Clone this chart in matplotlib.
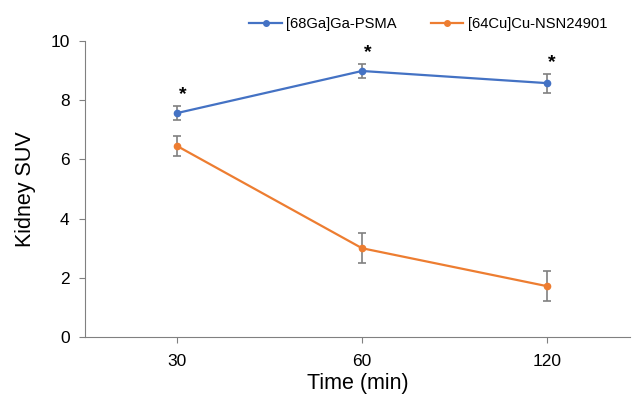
import matplotlib.pyplot as plt
from matplotlib.lines import Line2D
import numpy as np

plt.rcParams['font.family'] = ['Liberation Sans', 'DejaVu Sans']

times = ['30', '60', '120']
ga_mean = [7.57, 8.99, 8.58]
ga_err = [0.22, 0.25, 0.32]
cu_mean = [6.45, 3.0, 1.72]
cu_err = [0.35, 0.5, 0.52]
star_y = [8.2, 9.6, 9.27]
blue = '#4472C4'
orange = '#ED7D31'

x = np.arange(len(times))
fig = plt.figure(figsize=(6.32, 3.94), dpi=100)
ax = fig.add_axes([0.1345, 0.1447, 0.862, 0.751])

ax.errorbar(x, ga_mean, yerr=ga_err, color=blue, marker='o', ms=4.5, lw=1.6,
            ecolor='#808080', elinewidth=1.2, capsize=3, capthick=1.2)
ax.errorbar(x, cu_mean, yerr=cu_err, color=orange, marker='o', ms=4.5, lw=1.6,
            ecolor='#808080', elinewidth=1.2, capsize=3, capthick=1.2)
for xi, yi in zip(x, star_y):
    ax.text(xi + 0.03, yi, '*', ha='center', va='center', fontsize=14, fontweight='bold')

ax.set_xlim(-0.5, 2.45)
ax.set_ylim(0, 10)
ax.set_yticks([0, 2, 4, 6, 8, 10])
ax.set_xticks(x)
ax.set_xticklabels(times)
ax.tick_params(labelsize=12.5, color='#808080', length=4)
ax.tick_params(axis='y', pad=7)
ax.tick_params(axis='x', pad=8)
for s in ['top', 'right']:
    ax.spines[s].set_visible(False)
for s in ['left', 'bottom']:
    ax.spines[s].set_color('#808080')
ax.set_xlabel('Time (min)', fontsize=15.5, labelpad=3)
ax.set_ylabel('Kidney SUV', fontsize=15.5, labelpad=10)

handles = [Line2D([], [], color=blue, marker='o', ms=4, lw=1.6),
           Line2D([], [], color=orange, marker='o', ms=4, lw=1.6)]
ax.legend(handles, ['[68Ga]Ga-PSMA', '[64Cu]Cu-NSN24901'], loc='lower center',
          bbox_to_anchor=(0.63, 1.0), ncol=2, frameon=False, fontsize=10.6,
          handlelength=2.2, handletextpad=0.3, columnspacing=2.3, borderaxespad=0.3)

fig.savefig('out.png')
